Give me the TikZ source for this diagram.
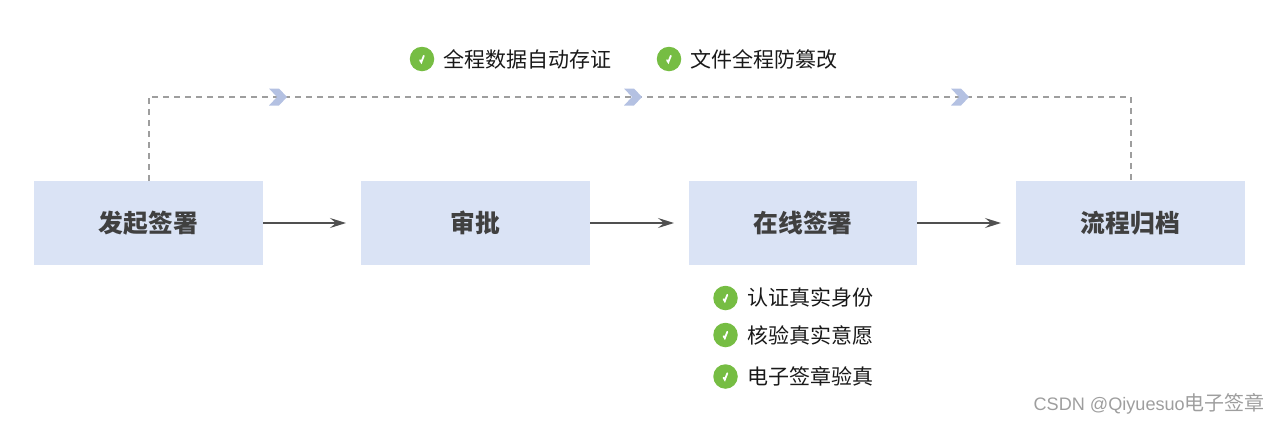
\documentclass[tikz,border=0pt]{standalone}
\usepackage{fontspec}
\setmainfont{Noto Sans CJK SC}
\newfontfamily\wmfont{Liberation Sans}
\usetikzlibrary{arrows.meta}
\definecolor{boxblue}{HTML}{DAE3F5}
\definecolor{chev}{HTML}{B4C1E2}
\definecolor{okgreen}{HTML}{76BD43}
\definecolor{dashgray}{HTML}{9E9E9E}
\definecolor{arrowgray}{HTML}{505050}
\definecolor{titlegray}{HTML}{404040}
\tikzset{
  stepbox/.style={fill=boxblue,draw=none,minimum width=229pt,minimum height=84pt,inner sep=0pt,
    font=\fontsize{24.8pt}{26pt}\selectfont\bfseries,text=titlegray},
  flow/.style={draw=arrowgray,line width=1.5pt,-{Stealth[inset=6pt,length=16pt,width=10pt]}},
  dashline/.style={draw=dashgray,line width=2pt,dash pattern=on 6pt off 5pt},
  okdot/.style={circle,fill=okgreen,draw=none,minimum size=24.5pt,inner sep=0pt},
  oktext/.style={anchor=west,inner sep=0pt,font=\fontsize{21pt}{23pt}\selectfont,text=black!90},
  okcheck/.style={draw=white,line width=1.8pt,line cap=round},
  chevron/.pic={\fill[chev] (-9,-8.5) -- (1,-8.5) -- (9,0) -- (1,8.5) -- (-9,8.5) -- (-1,0) -- cycle;}
}
\begin{document}
\begin{tikzpicture}[x=1pt,y=-1pt]
\useasboundingbox (0,0) rectangle (1280,424);
\node[stepbox] (a) at (148.5,223) {发起签署};
\node[stepbox] (b) at (475.5,223) {审批};
\node[stepbox,minimum width=228pt] (c) at (803,223) {在线签署};
\node[stepbox] (d) at (1130.5,223) {流程归档};
\coordinate (af) at (346,223);
\coordinate (bf) at (674,223);
\coordinate (cf) at (1001,223);
\draw[flow] (a.east) -- (af);
\draw[flow] (b.east) -- (bf);
\draw[flow] (c.east) -- (cf);
\coordinate (tl) at (a.north |- 0,96.5);
\coordinate (tr) at (d.north |- 0,96.5);
\draw[dashline] (a.north) -- (tl) -- (tr) -- (d.north);
\pic at (278,97) {chevron};
\pic at (633,97) {chevron};
\pic at (960,97) {chevron};
% top checks
\node[okdot] (k1) at (422,59) {};
\draw[okcheck] ([shift={(-2,1.2)}]k1.center) -- ([shift={(-0.7,3.2)}]k1.center) -- ([shift={(1.8,-3.2)}]k1.center);
\node[oktext] (t1) at (443,59) {全程数据自动存证};
\node[okdot] (k2) at (669,59) {};
\draw[okcheck] ([shift={(-2,1.2)}]k2.center) -- ([shift={(-0.7,3.2)}]k2.center) -- ([shift={(1.8,-3.2)}]k2.center);
\node[oktext] (t2) at (690,59) {文件全程防篡改};
% bottom checks
\node[okdot] (k3) at (725.5,298) {};
\draw[okcheck] ([shift={(-2,1.2)}]k3.center) -- ([shift={(-0.7,3.2)}]k3.center) -- ([shift={(1.8,-3.2)}]k3.center);
\node[oktext] (t3) at (747,298) {认证真实身份};
\node[okdot] (k4) at (725.5,335) {};
\draw[okcheck] ([shift={(-2,1.2)}]k4.center) -- ([shift={(-0.7,3.2)}]k4.center) -- ([shift={(1.8,-3.2)}]k4.center);
\node[oktext] (t4) at (747,335) {核验真实意愿};
\node[okdot] (k5) at (725.5,376.5) {};
\draw[okcheck] ([shift={(-2,1.2)}]k5.center) -- ([shift={(-0.7,3.2)}]k5.center) -- ([shift={(1.8,-3.2)}]k5.center);
\node[oktext] (t5) at (747,376.5) {电子签章验真};
% watermark
\node[anchor=east,inner sep=0pt,text=black!38,font=\fontsize{20pt}{22pt}\selectfont] (wm) at (1265,404) {{\wmfont\fontsize{18.1pt}{22pt}\selectfont CSDN @Qiyuesuo}电子签章};
\end{tikzpicture}
\end{document}
